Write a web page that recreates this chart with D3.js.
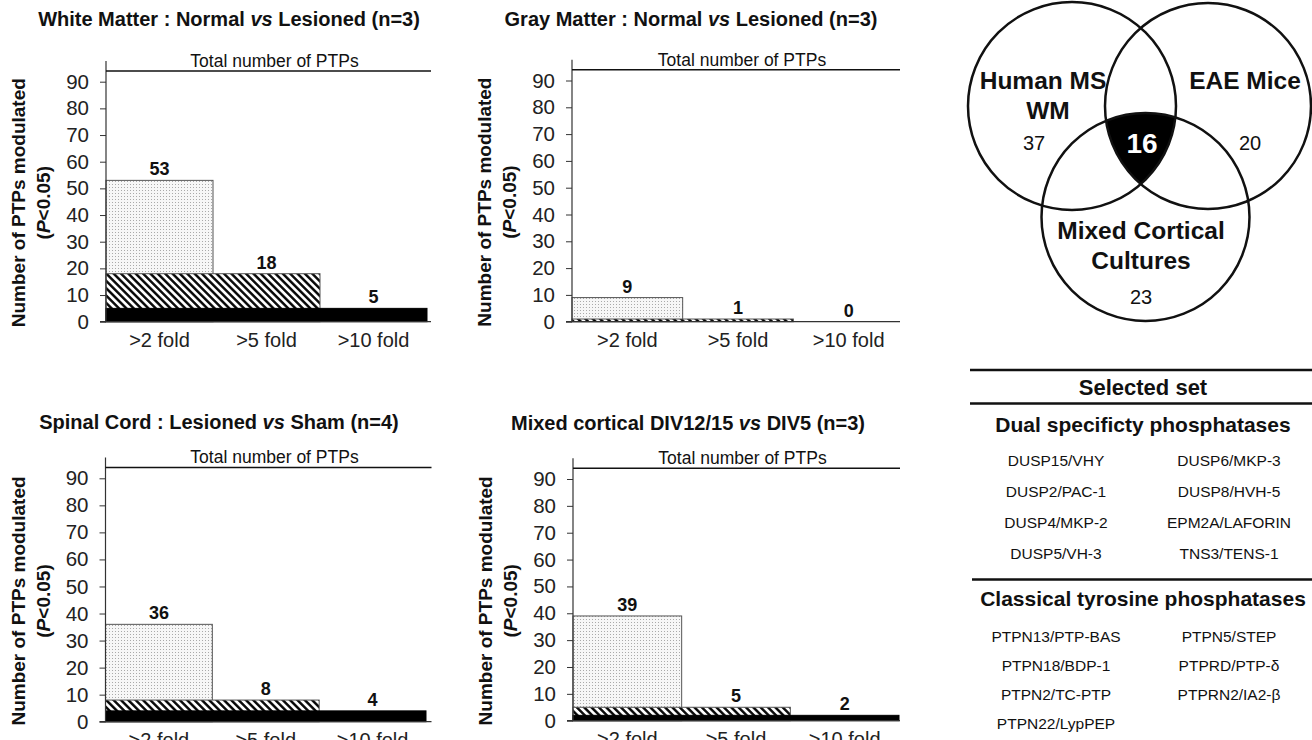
<!DOCTYPE html>
<html>
<head>
<meta charset="utf-8">
<script src="https://cdnjs.cloudflare.com/ajax/libs/d3/7.8.5/d3.min.js"></script>
<style>
body{margin:0;background:#fff;}
svg{display:block;font-family:"Liberation Sans",Arial,sans-serif;}
</style>
</head>
<body>
<div id="chart"></div>
<script>
// chart values
var categories = ['>2 fold', '>5 fold', '>10 fold'];
var whiteMatter = [53, 18, 5];
var grayMatter = [9, 1, 0];
var spinalCord = [36, 8, 4];
var mixedCortical = [39, 5, 2];
var yTicks = [0, 10, 20, 30, 40, 50, 60, 70, 80, 90];
var totalPTPs = 94;

var vennLabels = [['Human MS', 'WM'], ['EAE Mice'], ['Mixed Cortical', 'Cultures']];
var vennCounts = [37, 20, 23];
var vennShared = 16;

var dualSpecificity = ['DUSP15/VHY', 'DUSP6/MKP-3', 'DUSP2/PAC-1', 'DUSP8/HVH-5',
	'DUSP4/MKP-2', 'EPM2A/LAFORIN', 'DUSP5/VH-3', 'TNS3/TENS-1'];
var classical = ['PTPN13/PTP-BAS', 'PTPN5/STEP', 'PTPN18/BDP-1', 'PTPRD/PTP-δ',
	'PTPN2/TC-PTP', 'PTPRN2/IA2-β', 'PTPN22/LypPEP'];


var W = 1312, H = 740;
var svg = d3.select('#chart').append('svg')
	.attr('width', W)
	.attr('height', H);

var defs = svg.append('defs');

// dotted fill
var dots = defs.append('pattern').attr('id', 'dots')
	.attr('patternUnits', 'userSpaceOnUse').attr('width', 3).attr('height', 3);
dots.append('rect').attr('width', 3).attr('height', 3).attr('fill', '#f7f7f7');
dots.append('rect').attr('x', 1).attr('y', 1).attr('width', 1).attr('height', 1).attr('fill', '#aaa');

// diagonal hatch  \\\
var hatch = defs.append('pattern').attr('id', 'hatch')
	.attr('patternUnits', 'userSpaceOnUse').attr('width', 5.2).attr('height', 5.2)
	.attr('patternTransform', 'rotate(-45)');
hatch.append('rect').attr('width', 5.2).attr('height', 5.2).attr('fill', '#fff');
hatch.append('line').attr('x1', 1.3).attr('x2', 1.3).attr('y1', 0).attr('y2', 5.2)
	.attr('stroke', '#000').attr('stroke-width', 2.4);

var fills = ['url(#dots)', 'url(#hatch)', '#000'];

var panels = [
	{title: ['White Matter : Normal ', 'vs', ' Lesioned (n=3)'], values: whiteMatter,
		tx: 229, ty: 26, x0: 106, x1: 427, lineEnd: 431, y0: 321.7, y90: 81.7},
	{title: ['Gray Matter : Normal ', 'vs', ' Lesioned (n=3)'], values: grayMatter,
		tx: 691, ty: 26, x0: 572, x1: 904, lineEnd: 900, y0: 321.7, y90: 80.5},
	{title: ['Spinal Cord : Lesioned ', 'vs', ' Sham (n=4)'], values: spinalCord,
		tx: 219, ty: 429, x0: 105.5, x1: 426, lineEnd: 431.5, y0: 721.7, y90: 478.3},
	{title: ['Mixed cortical DIV12/15 ', 'vs', ' DIV5 (n=3)'], values: mixedCortical,
		tx: 688, ty: 430, x0: 573, x1: 899, lineEnd: 900, y0: 720.7, y90: 479}
];

panels.forEach(drawPanel);

function drawPanel(p){
	var g = svg.append('g');
	var x = d3.scaleBand().domain(categories).range([p.x0, p.x1]);
	var y = d3.scaleLinear().domain([0, 90]).range([p.y0, p.y90]);
	var topY = y(totalPTPs);

	// title
	g.append('text')
		.attr('x', p.tx).attr('y', p.ty)
		.attr('text-anchor', 'middle')
		.style('font-size', '20px').style('font-weight', 'bold').attr('fill', '#111')
		.selectAll('tspan').data(p.title).enter().append('tspan')
		.style('font-style', function(d, i){ return i == 1 ? 'italic' : 'normal'; })
		.text(function(d){ return d; });

	// bars: each threshold spans from the axis to the end of its own band
	g.selectAll('.bar').data(p.values).enter().append('rect')
		.attr('class', 'bar')
		.attr('x', p.x0)
		.attr('width', function(d, i){ return x(categories[i]) + x.bandwidth() - p.x0; })
		.attr('y', function(d){ return y(d); })
		.attr('height', function(d){ return y(0) - y(d); })
		.attr('fill', function(d, i){ return fills[i]; })
		.attr('stroke', function(d, i){ return i == 2 ? '#000' : '#555'; })
		.attr('stroke-width', 1);

	g.selectAll('.val').data(p.values).enter().append('text')
		.attr('class', 'val')
		.attr('x', function(d, i){ return x(categories[i]) + x.bandwidth() / 2; })
		.attr('y', function(d){ return y(d) - 5; })
		.attr('text-anchor', 'middle')
		.style('font-size', '18px').style('font-weight', 'bold').attr('fill', '#111')
		.text(function(d){ return d; });

	// y axis
	var ax = g.append('g')
		.attr('transform', 'translate(' + p.x0 + ',0)')
		.call(d3.axisLeft(y).tickValues(yTicks).tickSize(6).tickPadding(11));
	ax.select('.domain').remove();
	ax.selectAll('.tick line').attr('stroke', '#333');
	ax.selectAll('.tick text').attr('fill', '#222')
		.style('font-size', '20.5px').style('font-family', '"Liberation Sans",Arial,sans-serif');

	g.append('line')
		.attr('x1', p.x0).attr('x2', p.x0)
		.attr('y1', p.y0).attr('y2', topY - 10)
		.attr('stroke', '#333').attr('stroke-width', 1.2);

	// baseline
	g.append('line')
		.attr('x1', p.x0 - 6).attr('x2', p.lineEnd)
		.attr('y1', p.y0).attr('y2', p.y0)
		.attr('stroke', '#333').attr('stroke-width', 1.2);

	// total number line
	g.append('line')
		.attr('x1', p.x0).attr('x2', p.lineEnd)
		.attr('y1', topY).attr('y2', topY)
		.attr('stroke', '#111').attr('stroke-width', 1.5);
	g.append('text')
		.attr('x', (p.x0 + p.lineEnd) / 2 + 6).attr('y', topY - 4)
		.attr('text-anchor', 'middle')
		.style('font-size', '17.5px').attr('fill', '#111')
		.text('Total number of PTPs');

	// x labels
	g.selectAll('.cat').data(categories).enter().append('text')
		.attr('x', function(d){ return x(d) + x.bandwidth() / 2; })
		.attr('y', p.y0 + 25)
		.attr('text-anchor', 'middle')
		.style('font-size', '20px').attr('fill', '#222')
		.text(function(d){ return d; });

	// y title
	var yc = (y(0) + y(90)) / 2 + 1;
	g.append('text')
		.attr('transform', 'translate(' + (p.x0 - 81) + ',' + yc + ') rotate(-90)')
		.attr('text-anchor', 'middle')
		.style('font-size', '19px').style('font-weight', 'bold').attr('fill', '#111')
		.text('Number of PTPs modulated');
	var t2 = g.append('text')
		.attr('transform', 'translate(' + (p.x0 - 56) + ',' + yc + ') rotate(-90)')
		.attr('text-anchor', 'middle')
		.style('font-size', '19px').style('font-weight', 'bold').attr('fill', '#111');
	t2.append('tspan').text('(');
	t2.append('tspan').style('font-style', 'italic').text('P');
	t2.append('tspan').text('<0.05)');
}


// Venn diagram
var circles = [{cx: 1072, cy: 106, r: 104}, {cx: 1208, cy: 106, r: 103}, {cx: 1145.5, cy: 217, r: 104}];

circles.forEach(function(c, i){
	defs.append('clipPath').attr('id', 'clip' + i)
		.append('circle').attr('cx', c.cx).attr('cy', c.cy).attr('r', c.r);
});

var venn = svg.append('g');
venn.append('g').attr('clip-path', 'url(#clip1)')
	.append('g').attr('clip-path', 'url(#clip2)')
	.append('circle')
	.attr('cx', circles[0].cx).attr('cy', circles[0].cy).attr('r', circles[0].r)
	.attr('fill', '#000');

venn.selectAll('.ring').data(circles).enter().append('circle')
	.attr('class', 'ring')
	.attr('cx', function(d){ return d.cx; })
	.attr('cy', function(d){ return d.cy; })
	.attr('r', function(d){ return d.r; })
	.attr('fill', 'none').attr('stroke', '#111').attr('stroke-width', 2.5);

var labelPos = [[{x: 1043, y: 89}, {x: 1048, y: 119}], [{x: 1245, y: 89}], [{x: 1141, y: 239}, {x: 1141, y: 269}]];
var countPos = [{x: 1034, y: 150}, {x: 1250, y: 150}, {x: 1141, y: 304}];

vennLabels.forEach(function(lines, i){
	lines.forEach(function(l, j){
		venn.append('text')
			.attr('x', labelPos[i][j].x).attr('y', labelPos[i][j].y)
			.attr('text-anchor', 'middle')
			.style('font-size', '24.5px').style('font-weight', 'bold').attr('fill', '#111')
			.text(l);
	});
});

venn.selectAll('.count').data(vennCounts).enter().append('text')
	.attr('class', 'count')
	.attr('x', function(d, i){ return countPos[i].x; })
	.attr('y', function(d, i){ return countPos[i].y; })
	.attr('text-anchor', 'middle')
	.style('font-size', '20px').attr('fill', '#111')
	.text(function(d){ return d; });

venn.append('text')
	.attr('x', 1142).attr('y', 153)
	.attr('text-anchor', 'middle')
	.style('font-size', '28px').style('font-weight', 'bold').attr('fill', '#fff')
	.text(vennShared);


// Selected set table
var tbl = svg.append('g');
var colX = [1056, 1229];

function hline(yy, xa){
	tbl.append('line').attr('x1', xa).attr('x2', W).attr('y1', yy).attr('y2', yy)
		.attr('stroke', '#111').attr('stroke-width', 2.5);
}
function heading(txt, yy, size){
	tbl.append('text').attr('x', 1143).attr('y', yy)
		.attr('text-anchor', 'middle')
		.style('font-size', size).style('font-weight', 'bold').attr('fill', '#111')
		.text(txt);
}
function geneList(list, y0, step){
	tbl.selectAll(null).data(list).enter().append('text')
		.attr('x', function(d, i){ return colX[i % 2]; })
		.attr('y', function(d, i){ return y0 + Math.floor(i / 2) * step; })
		.attr('text-anchor', 'middle')
		.style('font-size', '15.5px').attr('fill', '#111')
		.text(function(d){ return d; });
}

hline(370, 970);
heading('Selected set', 395, '22px');
hline(403.5, 970);
heading('Dual specificty phosphatases', 432, '21px');
geneList(dualSpecificity, 465.5, 31);
hline(579.5, 972);
heading('Classical tyrosine phosphatases', 606, '21px');
geneList(classical, 642, 29);

</script>
</body>
</html>
